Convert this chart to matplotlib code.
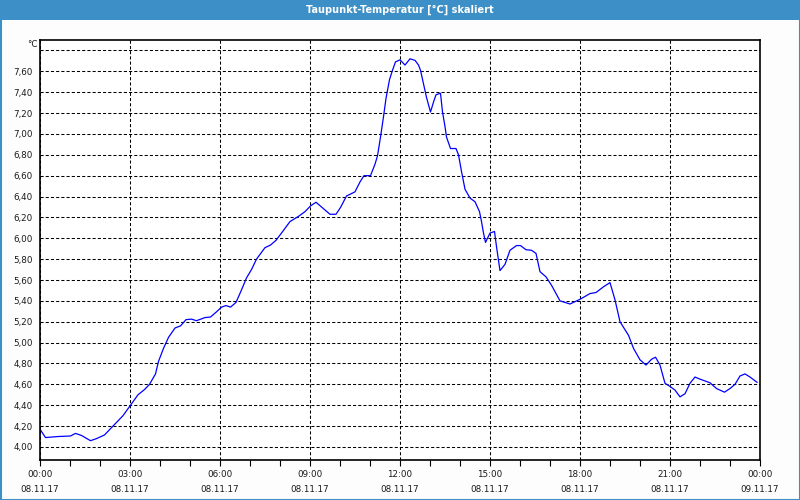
import matplotlib.pyplot as plt
from matplotlib.patches import Rectangle
from matplotlib.ticker import FixedLocator, MultipleLocator

# minutes since 08.11.17 00:00, dew point in degC
minutes = [0, 11, 36, 61, 71, 83, 101, 113, 129, 146,
           166, 181, 196, 209, 219, 231, 237, 247, 257, 270,
           281, 292, 303, 313, 330, 341, 353, 363, 372, 381,
           392, 403, 413, 423, 433, 450, 461, 472, 483, 500,
           517, 530, 541, 552, 563, 580, 592, 601, 613, 630,
           640, 648, 661, 670, 675, 681, 687, 692, 699, 705,
           711, 720, 730, 740, 750, 757, 761, 767, 773, 781,
           787, 792, 801, 805, 810, 813, 821, 832, 837, 843,
           850, 860, 870, 879, 883, 887, 891, 900, 909, 913,
           920, 930, 940, 953, 961, 972, 983, 992, 1000, 1012,
           1023, 1040, 1060, 1080, 1100, 1112, 1127, 1140, 1150, 1160,
           1177, 1187, 1200, 1212, 1223, 1231, 1240, 1250, 1260, 1270,
           1280, 1290, 1300, 1310, 1320, 1340, 1353, 1369, 1380, 1390,
           1400, 1410, 1420, 1434]
dew_point = [4.17, 4.09, 4.10, 4.105, 4.13, 4.11, 4.06, 4.08, 4.115, 4.20,
             4.30, 4.40, 4.50, 4.55, 4.60, 4.70, 4.82, 4.945, 5.05, 5.14,
             5.16, 5.22, 5.225, 5.21, 5.24, 5.245, 5.295, 5.34, 5.355, 5.34,
             5.385, 5.505, 5.62, 5.70, 5.80, 5.91, 5.935, 5.98, 6.05, 6.16,
             6.21, 6.255, 6.31, 6.345, 6.30, 6.23, 6.23, 6.295, 6.405, 6.445,
             6.54, 6.60, 6.60, 6.71, 6.79, 6.97, 7.165, 7.34, 7.52, 7.61,
             7.69, 7.71, 7.66, 7.72, 7.705, 7.66, 7.61, 7.48, 7.35, 7.21,
             7.305, 7.375, 7.39, 7.21, 7.07, 6.97, 6.86, 6.86, 6.80, 6.64,
             6.47, 6.385, 6.35, 6.255, 6.16, 6.05, 5.96, 6.05, 6.065, 5.92,
             5.69, 5.75, 5.885, 5.93, 5.93, 5.89, 5.885, 5.855, 5.68, 5.63,
             5.55, 5.40, 5.37, 5.415, 5.47, 5.48, 5.535, 5.575, 5.41, 5.20,
             5.07, 4.945, 4.835, 4.785, 4.84, 4.86, 4.785, 4.61, 4.58, 4.545,
             4.48, 4.51, 4.61, 4.67, 4.65, 4.615, 4.56, 4.525, 4.56, 4.60,
             4.68, 4.70, 4.67, 4.62]

tick_hours = [0, 3, 6, 9, 12, 15, 18, 21, 24]
tick_labels = ['00:00\n08.11.17', '03:00\n08.11.17', '06:00\n08.11.17',
               '09:00\n08.11.17', '12:00\n08.11.17', '15:00\n08.11.17',
               '18:00\n08.11.17', '21:00\n08.11.17', '00:00\n09.11.17']
y_ticks = [4.0, 4.2, 4.4, 4.6, 4.8, 5.0, 5.2, 5.4, 5.6, 5.8, 6.0, 6.2, 6.4,
           6.6, 6.8, 7.0, 7.2, 7.4, 7.6, 7.8]

title = 'Taupunkt-Temperatur [°C] skaliert'
blue = '#3d90c7'
txt = '#1a1a1a'

fig = plt.figure(figsize=(8, 5), dpi=100)
fig.patch.set_facecolor('#fcfdfc')

# title bar and window border
fig.add_artist(Rectangle((0, 1 - 20 / 500), 1, 20 / 500, transform=fig.transFigure,
                         facecolor=blue, edgecolor='none'))
fig.add_artist(Rectangle((0.5 / 800, 0.5 / 500), 799 / 800, 499 / 500,
                         transform=fig.transFigure, facecolor='none',
                         edgecolor=blue, linewidth=1.5))
fig.text(0.5, 1 - 10 / 500, title, color='white', fontsize=7,
         fontweight='bold', ha='center', va='center')

ax = fig.add_axes([40 / 800, 40 / 500, 720 / 800, 420 / 500])
ax.set_facecolor('white')

hours = [m / 60 for m in minutes]
ax.plot(hours, dew_point, color='#0000ff', linewidth=0.9)

ax.set_xlim(0, 24)
ax.set_ylim(3.875, 7.9)

ax.xaxis.set_major_locator(FixedLocator(tick_hours))
ax.set_xticklabels(tick_labels, fontsize=6.3, color=txt, linespacing=1.95)
ax.xaxis.set_minor_locator(MultipleLocator(1))
ax.tick_params(axis='x', which='both', direction='out', length=4, width=0.8,
               pad=3)

ax.set_yticks(y_ticks)
ax.set_yticklabels([f'{v:.2f}'.replace('.', ',') for v in y_ticks[:-1]] + [''],
                   fontsize=6.3, color=txt)
ax.tick_params(axis='y', length=0, pad=5)

ax.grid(True, which='major', color='black', linestyle=(0, (3, 2)),
        linewidth=0.75)

for s in ax.spines.values():
    s.set_linewidth(1.2)
    s.set_color('black')

ax.text(-0.003, 1.0, '°C', transform=ax.transAxes, ha='right', va='top',
        fontsize=6.3, color=txt)

fig.savefig('out.png', dpi=100, facecolor=fig.get_facecolor())
